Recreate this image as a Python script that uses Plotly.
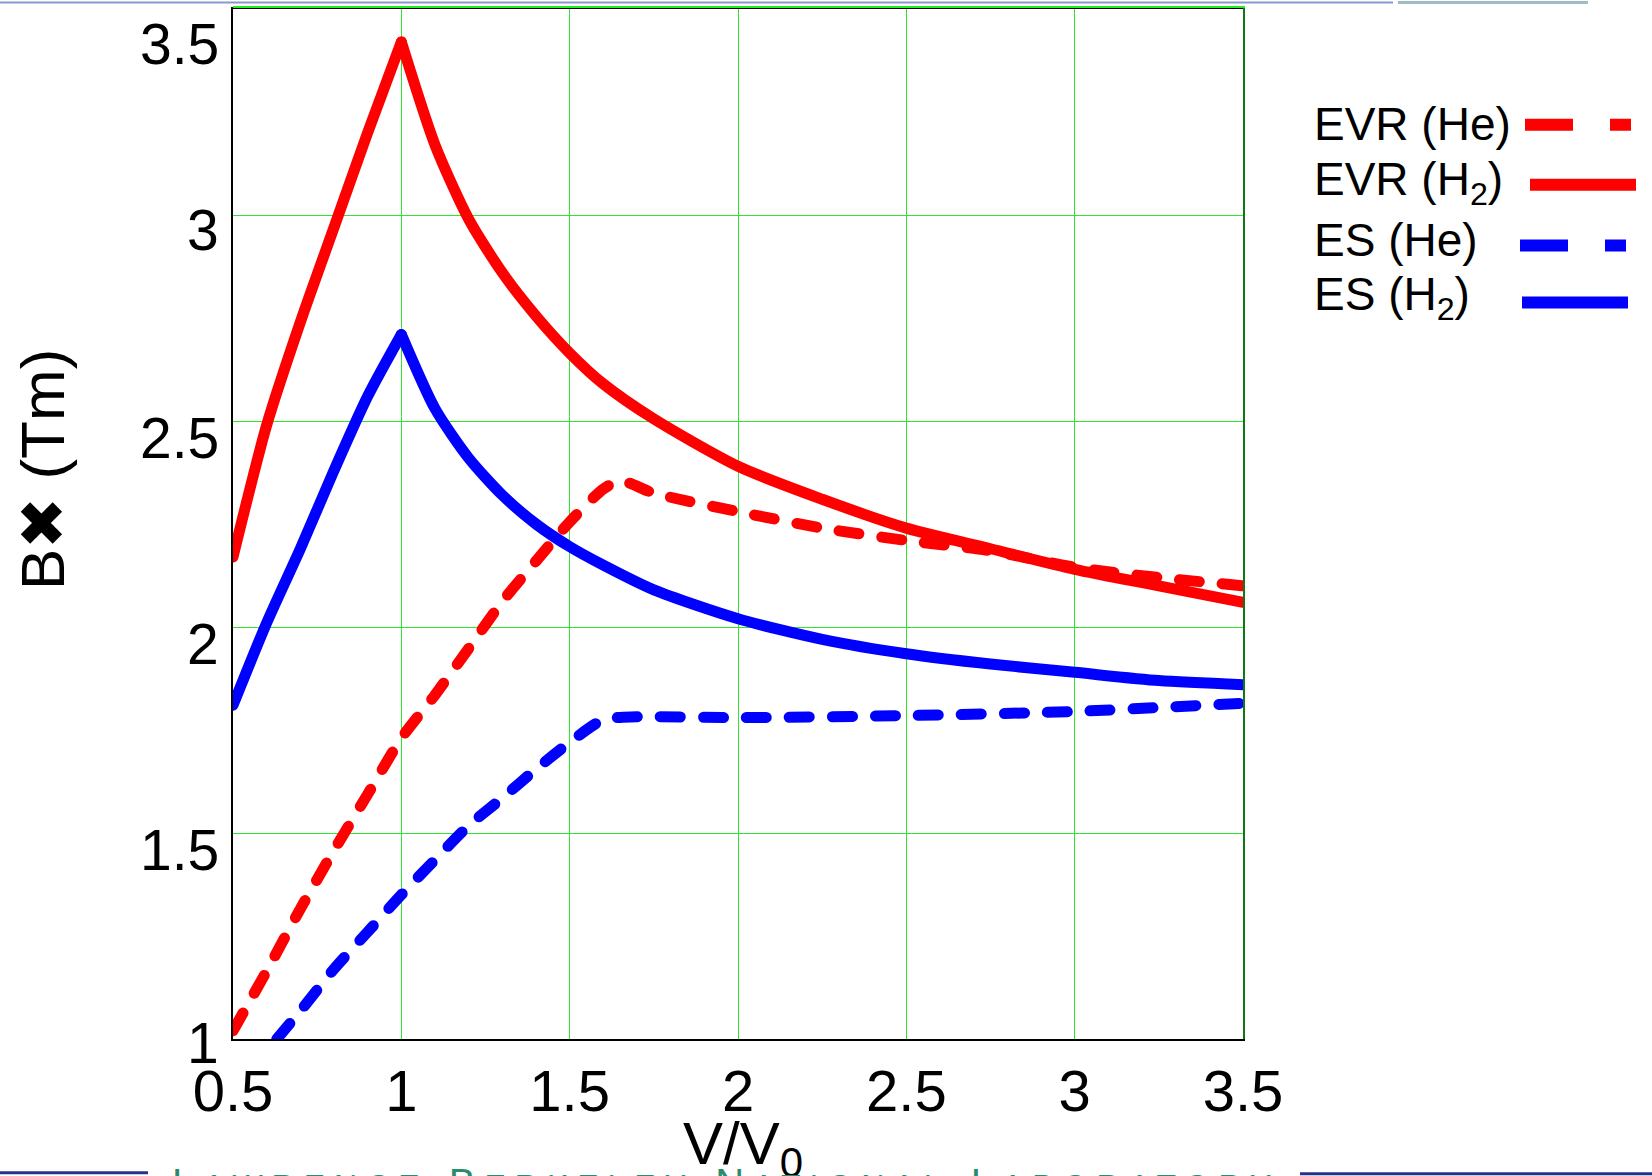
import plotly.graph_objects as go

# ---- curves: magnetic rigidity vs. normalised velocity ----
evr_he_x = [0.5, 0.6, 0.7, 0.8, 0.9, 1.0, 1.1, 1.2, 1.3, 1.4, 1.5, 1.6, 1.65, 1.75,
            2.0, 2.25, 2.5, 2.75, 3.0, 3.25, 3.5]
evr_he_y = [1.02, 1.165, 1.316, 1.458, 1.594, 1.73, 1.835, 1.948, 2.062, 2.16, 2.255, 2.335, 2.355, 2.325,
            2.28, 2.24, 2.21, 2.185, 2.145, 2.12, 2.10]

evr_h2_x = [0.5, 0.6, 0.7, 0.8, 0.9, 1.0, 1.1, 1.2, 1.3, 1.4, 1.5, 1.6, 1.75,
            2.0, 2.25, 2.5, 2.75, 3.0, 3.25, 3.5]
evr_h2_y = [2.17, 2.49, 2.74, 2.97, 3.20, 3.42, 3.17, 2.99, 2.86, 2.755, 2.665, 2.59, 2.505,
            2.39, 2.31, 2.24, 2.19, 2.14, 2.10, 2.06]

es_he_x = [0.63, 0.7, 0.8, 0.9, 1.0, 1.1, 1.2, 1.3, 1.4, 1.5, 1.6, 1.7,
           2.0, 2.5, 3.0, 3.5]
es_he_y = [1.0, 1.068, 1.17, 1.26, 1.35, 1.435, 1.518, 1.585, 1.655, 1.72, 1.775, 1.782,
           1.78, 1.785, 1.795, 1.815]

es_h2_x = [0.5, 0.6, 0.7, 0.8, 0.9, 1.0, 1.1, 1.2, 1.3, 1.4, 1.5, 1.6, 1.75,
           2.0, 2.25, 2.5, 2.75, 3.0, 3.25, 3.5]
es_h2_y = [1.81, 2.01, 2.19, 2.38, 2.56, 2.71, 2.53, 2.41, 2.32, 2.25, 2.195, 2.15, 2.09,
           2.02, 1.97, 1.935, 1.91, 1.89, 1.87, 1.86]

x_ticks = [0.5, 1, 1.5, 2, 2.5, 3, 3.5]
x_tick_text = ["0.5", "1", "1.5", "2", "2.5", "3", "3.5"]
y_ticks = [1, 1.5, 2, 2.5, 3, 3.5]
y_tick_text = ["1", "1.5", "2", "2.5", "3", "3.5"]

legend_labels = ["EVR (He)", "EVR (H<sub>2</sub>)", "ES (He)", "ES (H<sub>2</sub>)"]

RED = "#ff0000"
BLUE = "#0000ff"
GRID = "#2ee62e"
W, H = 1652, 1176
L, R, T, B = 233, 1243, 7, 1039   # plot box in page pixels

def fx(px):
    return (px - L) / (R - L)

def fy(py):
    return (B - py) / (B - T)

DASH = "20px,23px"
series = [
    (evr_he_x, evr_he_y, RED, DASH, False),
    (evr_h2_x, evr_h2_y, RED, "solid", True),
    (es_he_x, es_he_y, BLUE, DASH, False),
    (es_h2_x, es_h2_y, BLUE, "solid", True),
]

fig = go.Figure()
for (xs, ys, col, dash, sharp_peak), name in zip(series, legend_labels):
    line = dict(color=col, width=11, dash=dash, shape="spline", smoothing=0.7)
    if sharp_peak:
        # keep the cusp at the maximum: smooth each branch on its own
        k = ys.index(max(ys))
        parts = [(xs[:k + 1], ys[:k + 1]), (xs[k:], ys[k:])]
    else:
        parts = [(xs, ys)]
    for px_, py_ in parts:
        fig.add_trace(go.Scatter(x=px_, y=py_, mode="lines", name=name,
                                 showlegend=False, line=line))

sans = "Liberation Sans, Arial, sans-serif"

fig.update_layout(
    width=W, height=H,
    margin=dict(l=L, r=W - R, t=T, b=H - B, pad=0),
    paper_bgcolor="white", plot_bgcolor="white",
    font=dict(family=sans, color="black"),
    xaxis=dict(range=[0.5, 3.5], tickvals=x_ticks, ticktext=x_tick_text,
               showgrid=True, gridcolor=GRID, gridwidth=1, zeroline=False,
               showline=True, linecolor="black", linewidth=2, mirror=True,
               ticks="", tickfont=dict(family=sans, size=58, color="black"),
               ticklabelstandoff=0),
    yaxis=dict(range=[1, 3.5], tickvals=y_ticks, showticklabels=False,
               showgrid=True, gridcolor=GRID, gridwidth=1, zeroline=False,
               showline=True, linecolor="black", linewidth=2, mirror=True,
               ticks=""),
)

# y tick labels, set a little below their grid lines
y_label_drop = {"1": 4, "1.5": 17, "2": 17, "2.5": 17, "3": 15, "3.5": 35}
for v, t in zip(y_ticks, y_tick_text):
    fig.add_annotation(text=t, xref="paper", yref="y", x=fx(221), y=v,
                       yshift=-y_label_drop[t], xanchor="right", yanchor="middle",
                       showarrow=False, font=dict(family=sans, size=57, color="black"))

# axis titles
fig.add_annotation(text="V/V<sub>0</sub>", xref="paper", yref="paper",
                   x=fx(743), y=fy(1108), xanchor="center", yanchor="top",
                   showarrow=False, font=dict(family=sans, size=60, color="black"))
fig.add_annotation(text="B\u2716 (Tm)", xref="paper", yref="paper", textangle=-90,
                   x=fx(42), y=fy(469), xanchor="center", yanchor="middle",
                   showarrow=False, font=dict(family=sans, size=62, color="black"))

# legend: label on the left, line sample on the right
legend_rows = [
    (legend_labels[0], 122, RED, "48px,37px", 1525, 1631, 123),
    (legend_labels[1], 181, RED, "solid", 1530, 1636, 183),
    (legend_labels[2], 238, BLUE, "48px,37px", 1520, 1626, 244),
    (legend_labels[3], 296, BLUE, "solid", 1522, 1628, 301),
]
for label, yc, col, dash, x0, x1, ly in legend_rows:
    fig.add_annotation(text=label, xref="paper", yref="paper", x=fx(1312), y=fy(yc),
                       xanchor="left", yanchor="middle", showarrow=False,
                       font=dict(family=sans, size=46, color="black"))
    fig.add_shape(type="line", xref="paper", yref="paper",
                  x0=fx(x0), x1=fx(x1), y0=fy(ly), y1=fy(ly),
                  line=dict(color=col, width=12, dash=dash))

# green edge just outside the top and right of the frame
fig.add_shape(type="line", xref="paper", yref="paper", x0=0, x1=fx(R + 2),
              y0=fy(T - 2), y1=fy(T - 2), line=dict(color="#22ee22", width=2))
fig.add_shape(type="line", xref="paper", yref="paper", x0=fx(R + 1), x1=fx(R + 1),
              y0=0, y1=fy(T - 2), line=dict(color="#22ee22", width=1))

# slide decoration: header rule and laboratory footer
fig.add_shape(type="line", xref="paper", yref="paper", x0=fx(0), x1=fx(1393),
              y0=fy(0.5), y1=fy(0.5), line=dict(color="#8797d2", width=2))
fig.add_shape(type="line", xref="paper", yref="paper", x0=fx(1398), x1=fx(1588),
              y0=fy(0.5), y1=fy(0.5), line=dict(color="#9fbcc4", width=3))
fig.add_shape(type="line", xref="paper", yref="paper", x0=fx(0), x1=fx(148),
              y0=fy(1173), y1=fy(1173), line=dict(color="#24338a", width=3))
fig.add_shape(type="line", xref="paper", yref="paper", x0=fx(1300), x1=fx(1652),
              y0=fy(1174), y1=fy(1174), line=dict(color="#24338a", width=3))
sc = "<span style='font-size:32px'>%s</span>"
footer = ("<span style='letter-spacing:9px'>L" + sc % "AWRENCE" + " B" + sc % "ERKELEY" +
          " N" + sc % "ATIONAL" + " L" + sc % "ABORATORY" + "</span>")
fig.add_annotation(text=footer, xref="paper", yref="paper", x=fx(726), y=fy(1159),
                   xanchor="center", yanchor="top", showarrow=False,
                   font=dict(family=sans, size=40, color="#2a8c6c"))

round_caps = """
var gd = document.getElementById('{plot_id}');
function rc() {
  gd.querySelectorAll('.scatterlayer .js-line').forEach(function (p) {
    p.style.strokeLinecap = 'round';
    p.style.strokeLinejoin = 'round';
  });
}
rc();
gd.on('plotly_afterplot', rc);
setTimeout(rc, 30);
"""

fig.write_html("out.html", post_script=round_caps)
